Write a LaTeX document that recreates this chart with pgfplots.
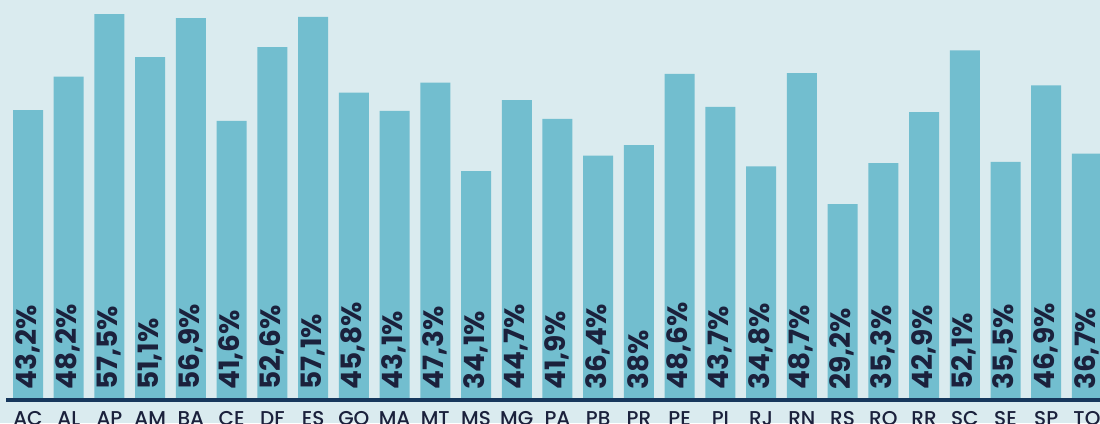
\documentclass[border=0pt]{standalone}
\usepackage{pgfplots}
\pgfplotsset{compat=1.18}
\usepackage{pgfplotstable}
\usepackage{fontspec}
\setmainfont{Poppins}
\newfontfamily\pmed{Poppins Medium}
\definecolor{bgc}{HTML}{DAEBEF}
\definecolor{barc}{HTML}{72BECF}
\definecolor{navy}{HTML}{17375C}
\definecolor{labc}{HTML}{1B213C}

\pgfplotstableread{
x lab v
0 AC 43.2
1 AL 48.2
2 AP 57.5
3 AM 51.1
4 BA 56.9
5 CE 41.6
6 DF 52.6
7 ES 57.1
8 GO 45.8
9 MA 43.1
10 MT 47.3
11 MS 34.1
12 MG 44.7
13 PA 41.9
14 PB 36.4
15 PR 38
16 PE 48.6
17 PI 43.7
18 RJ 34.8
19 RN 48.7
20 RS 29.2
21 RO 35.3
22 RR 42.9
23 SC 52.1
24 SE 35.5
25 SP 46.9
26 TO 36.7
}\data

\begin{document}
\begin{tikzpicture}
\useasboundingbox (0,0) rectangle (1100pt,423pt);
\fill[bgc] (0,0) rectangle (1100pt,423pt);
\begin{scope}
\clip (0,0) rectangle (1100pt,423pt);
\begin{axis}[
  at={(0,0)}, anchor=south west,
  scale only axis, width=1100pt, height=423pt,
  xmin=-0.6875, xmax=26.32, ymin=-3.428, ymax=59.61,
  enlargelimits=false,
  axis line style={draw=none},
  ytick=\empty,
  xtick=data,
  xticklabels from table={\data}{lab},
  major tick length=0pt,
  xticklabel style={anchor=north, yshift=12pt, inner sep=0pt, font=\pmed\fontsize{20}{20}\selectfont, text=labc},
  /pgf/number format/.cd, use comma, fixed, precision=1, assume math mode=true,
]
\addplot[ybar, fill=barc, draw=none, bar width=30pt,
  nodes near coords={\pgfmathprintnumber{\pgfplotspointmeta}\%},
  visualization depends on={y \as \rawy},
  every node near coord/.append style={shift={(axis direction cs:0,-\rawy)}, yshift=10pt, xshift=-0.5pt, rotate=90, anchor=west, inner sep=0pt, font=\bfseries\fontsize{28}{28}\selectfont, text=labc},
] table[x=x, y=v] {\data};
\draw[line width=4.5pt, navy] (axis cs:-0.54,0) -- (axis cs:26.5,0);
\end{axis}
\end{scope}
\end{tikzpicture}
\end{document}
